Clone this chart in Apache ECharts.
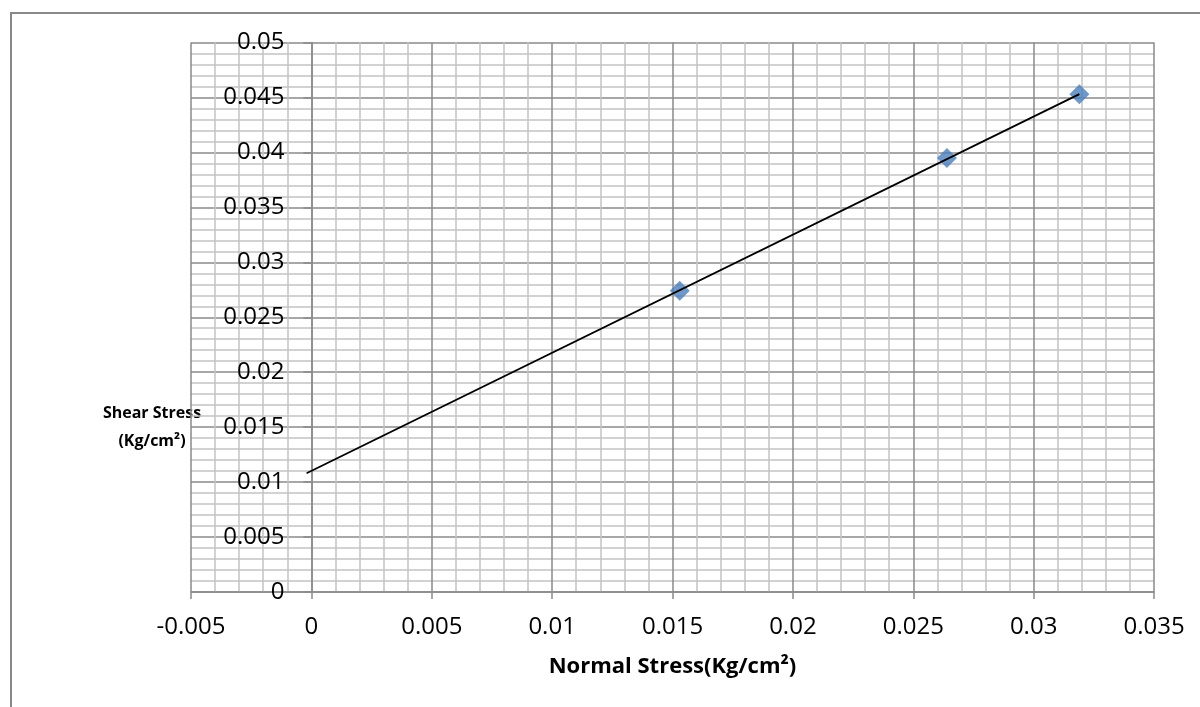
<!DOCTYPE html>
<html>
<head>
<meta charset="utf-8">
<script src="https://cdn.jsdelivr.net/npm/echarts@6/dist/echarts.min.js"></script>
<style>
  html, body { margin: 0; padding: 0; background: #fff; }
  #chart { width: 1200px; height: 707px; }
</style>
</head>
<body>
<div id="chart"></div>
<script>
// measured points
const normalStress = [0.0153, 0.0264, 0.0319];
const shearStress = [0.0274, 0.0395, 0.0453];
// linear trendline ends
const trendX = [-0.0002, 0.0319];
const trendY = [0.0108, 0.0453];

const xTitle = "Normal Stress(Kg/cm²)";
const yTitle = ["Shear Stress", "(Kg/cm²)"];

const FONT = "Open Sans";
const majorColor = "#8a8a8a";
const minorColor = "#c4c4c4";

// the vertical axis crosses at x = 0, one major step in from the left edge
const plotLeft = 191, plotRight = 1154;
const yAxisShift = (plotRight - plotLeft) / 8;

var myChart = echarts.init(document.getElementById("chart"));
myChart.setOption({
  animation: false,
  textStyle: { fontFamily: FONT },
  grid: { left: plotLeft, right: 1200 - plotRight, top: 42.5, bottom: 115 },
  xAxis: {
    type: "value",
    min: -0.005,
    max: 0.035,
    interval: 0.005,
    name: xTitle,
    nameLocation: "middle",
    nameGap: 64,
    nameTextStyle: { fontFamily: FONT, fontWeight: "bold", fontSize: 22, color: "#000" },
    axisLine: { onZero: false, lineStyle: { color: majorColor, width: 1.5 } },
    axisTick: { show: true, length: 7, lineStyle: { color: majorColor, width: 1.5 } },
    axisLabel: { fontSize: 24, color: "#000", margin: 23 },
    splitLine: { show: true, lineStyle: { color: majorColor, width: 1.5 } },
    minorTick: { show: false, splitNumber: 5 },
    minorSplitLine: { show: true, lineStyle: { color: minorColor, width: 1.5 } },
  },
  yAxis: {
    type: "value",
    min: 0,
    max: 0.05,
    interval: 0.005,
    offset: -yAxisShift,
    axisLine: { show: true, onZero: false, lineStyle: { color: majorColor, width: 1.5 } },
    axisTick: { show: true, length: 8, lineStyle: { color: majorColor, width: 1.5 } },
    axisLabel: { fontSize: 24, color: "#000", margin: 27 },
    splitLine: { show: true, lineStyle: { color: majorColor, width: 1.5 } },
    minorTick: { show: false, splitNumber: 5 },
    minorSplitLine: { show: true, lineStyle: { color: minorColor, width: 1.5 } },
  },
  graphic: [
    {
      type: "rect",
      shape: { x: 11, y: 13, width: 1250, height: 760 },
      style: { fill: "none", stroke: "#888", lineWidth: 2 },
      silent: true,
    },
    {
      type: "text",
      x: 152,
      y: 399,
      style: {
        text: yTitle.join("\n"),
        fontFamily: FONT,
        fontWeight: "bold",
        fontSize: 16,
        lineHeight: 28,
        align: "center",
        fill: "#000",
      },
    },
  ],
  series: [
    {
      type: "line",
      data: trendX.map((x, i) => [x, trendY[i]]),
      showSymbol: false,
      lineStyle: { color: "#000", width: 1.8 },
      z: 3,
    },
    {
      type: "scatter",
      data: normalStress.map((x, i) => [x, shearStress[i]]),
      symbol: "diamond",
      symbolSize: 20,
      itemStyle: { color: "#4a7ebb" },
      z: 2,
    },
  ],
});
</script>
</body>
</html>
